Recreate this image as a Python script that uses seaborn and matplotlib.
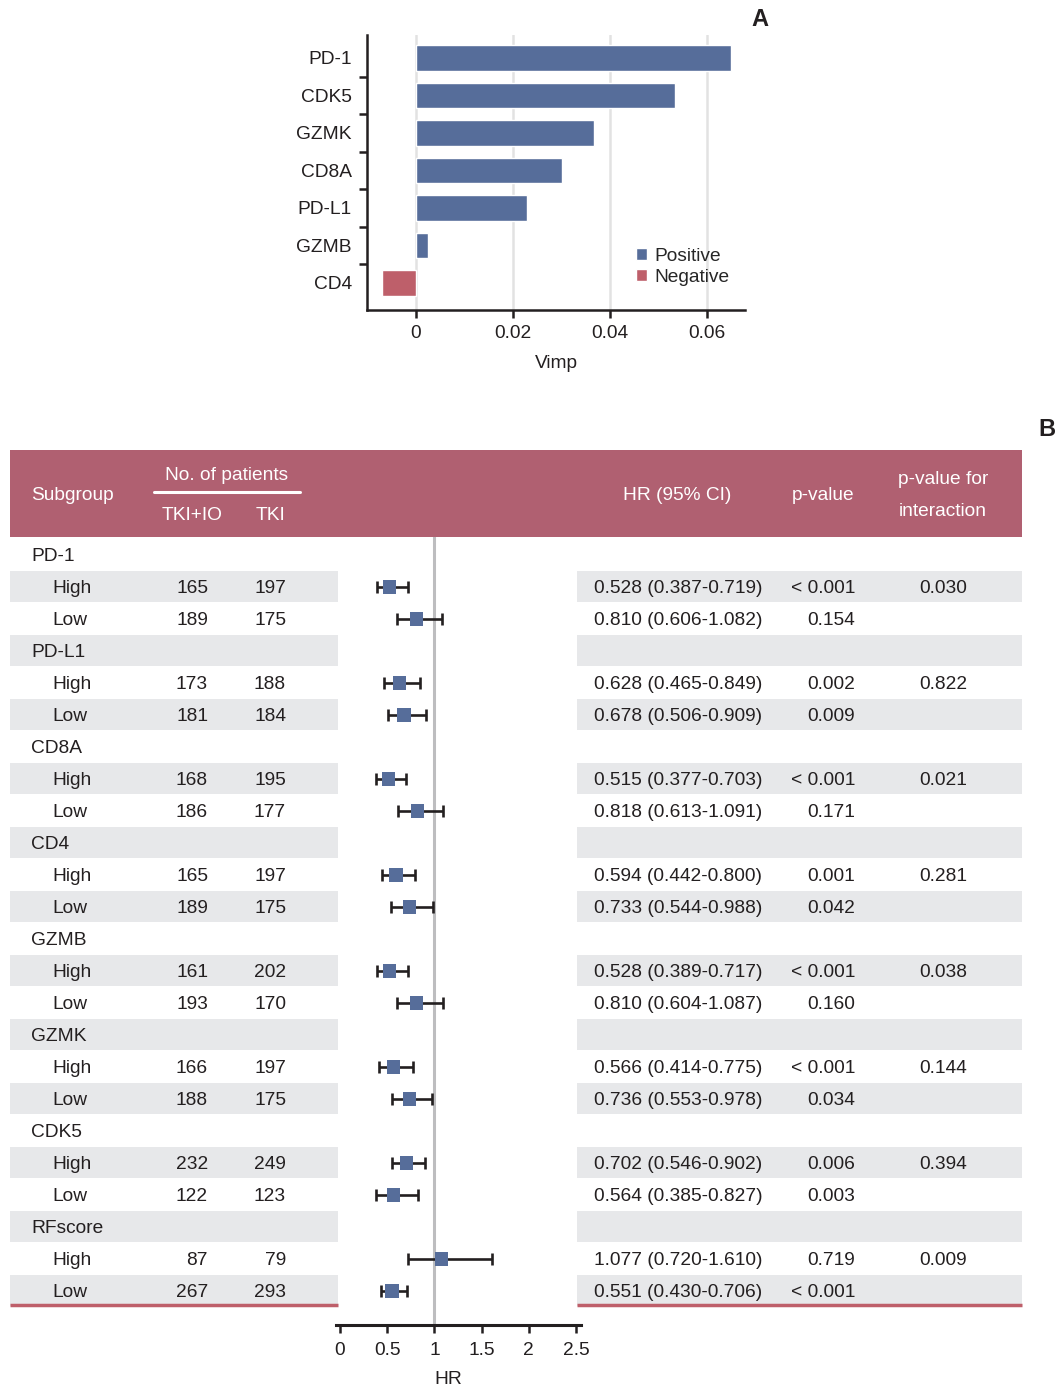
import numpy as np
import pandas as pd
import matplotlib
matplotlib.use("Agg")
import matplotlib.pyplot as plt
import seaborn as sns
from matplotlib.patches import Rectangle

# ---- panel A data
genes = ["PD-1", "CDK5", "GZMK", "CD8A", "PD-L1", "GZMB", "CD4"]
vimp = [0.0650, 0.0534, 0.0367, 0.0301, 0.0229, 0.0025, -0.0070]

# ---- panel B data
markers = ["PD-1", "PD-L1", "CD8A", "CD4", "GZMB", "GZMK", "CDK5", "RFscore"]
levels = ["High", "Low"]
n_combo = [165, 189, 173, 181, 168, 186, 165, 189, 161, 193, 166, 188, 232, 122, 87, 267]
n_tki = [197, 175, 188, 184, 195, 177, 197, 175, 202, 170, 197, 175, 249, 123, 79, 293]
hr = [0.528, 0.810, 0.628, 0.678, 0.515, 0.818, 0.594, 0.733,
      0.528, 0.810, 0.566, 0.736, 0.702, 0.564, 1.077, 0.551]
hr_lo = [0.387, 0.606, 0.465, 0.506, 0.377, 0.613, 0.442, 0.544,
         0.389, 0.604, 0.414, 0.553, 0.546, 0.385, 0.720, 0.430]
hr_hi = [0.719, 1.082, 0.849, 0.909, 0.703, 1.091, 0.800, 0.988,
         0.717, 1.087, 0.775, 0.978, 0.902, 0.827, 1.610, 0.706]
p_val = ["< 0.001", "0.154", "0.002", "0.009", "< 0.001", "0.171", "0.001", "0.042",
         "< 0.001", "0.160", "< 0.001", "0.034", "0.006", "0.003", "0.719", "< 0.001"]
p_int = ["0.030", "0.822", "0.021", "0.281", "0.038", "0.144", "0.394", "0.009"]

BLUE = "#566D9A"
RED = "#BE5F6A"
HEAD = "#B06071"
STRIPE = "#E7E8EA"
INK = "#231F20"

sns.set_style("white")
plt.rcParams['font.family'] = ['Liberation Sans', 'DejaVu Sans']
FS = 13.8

W, H = 1062, 1387
fig = plt.figure(figsize=(W / 100, H / 100), dpi=100)


def px_axes(x0, y0, x1, y1):
    return fig.add_axes([x0 / W, 1 - y1 / H, (x1 - x0) / W, (y1 - y0) / H])


# ---------------- table background (pixel coordinates)
tab = px_axes(0, 0, W, H)
tab.set_xlim(0, W)
tab.set_ylim(H, 0)
tab.axis("off")

tab.text(760, 19, "A", fontsize=17, fontweight="bold", ha="center", va="center", color=INK)
tab.text(1047, 429, "B", fontsize=17, fontweight="bold", ha="center", va="center", color=INK)

tab.add_patch(Rectangle((10, 450), 1012, 87, color=HEAD, lw=0))
hdr = dict(color="white", fontsize=FS, va="center")
tab.text(31, 496, "Subgroup", ha="left", **hdr)
tab.text(227, 476, "No. of patients", ha="center", **hdr)
tab.plot([154, 300], [492, 492], color="white", lw=2.2)
tab.text(192, 516, "TKI+IO", ha="center", **hdr)
tab.text(270, 516, "TKI", ha="center", **hdr)
tab.text(677, 496, "HR (95% CI)", ha="center", **hdr)
tab.text(823, 496, "p-value", ha="center", **hdr)
tab.text(943, 480, "p-value for", ha="center", **hdr)
tab.text(943, 512, "interaction", ha="center", **hdr)

row0, rh = 555, 32
n_rows = len(markers) * 3
for r in range(n_rows):
    yc = row0 + rh * r
    if r % 2 == 1:
        tab.add_patch(Rectangle((10, yc - 16), 328, 31, color=STRIPE, lw=0))
        tab.add_patch(Rectangle((577, yc - 16), 445, 31, color=STRIPE, lw=0))

txt = dict(fontsize=FS, va="center", color=INK)
k = 0
for g, m in enumerate(markers):
    yg = row0 + rh * 3 * g
    tab.text(31, yg + 1.5, m, ha="left", **txt)
    for j, lv in enumerate(levels):
        y = yg + rh * (j + 1) + 1.5
        tab.text(52, y, lv, ha="left", **txt)
        tab.text(208, y, str(n_combo[k]), ha="right", **txt)
        tab.text(286, y, str(n_tki[k]), ha="right", **txt)
        tab.text(594, y, "%.3f (%.3f-%.3f)" % (hr[k], hr_lo[k], hr_hi[k]), ha="left", **txt)
        tab.text(855, y, p_val[k], ha="right", **txt)
        if j == 0:
            tab.text(943, y, p_int[g], ha="center", **txt)
        k += 1

tab.plot([10, 338], [1305, 1305], color=RED, lw=2.5, solid_capstyle="butt")
tab.plot([577, 1022], [1305, 1305], color=RED, lw=2.5, solid_capstyle="butt")

# ---------------- panel A: bar chart
axA = px_axes(367, 35, 745, 310)
dfA = pd.DataFrame({"gene": genes, "vimp": vimp,
                    "sign": ["Positive" if v > 0 else "Negative" for v in vimp]})
sns.barplot(data=dfA, y="gene", x="vimp", hue="sign", order=genes,
            hue_order=["Positive", "Negative"], dodge=False,
            palette={"Positive": BLUE, "Negative": RED}, width=0.69,
            saturation=1, ax=axA, zorder=3)
axA.set_xlim(-0.0101, 0.0678)
axA.set_ylim(6.72, -0.613)
axA.set_xticks([0, 0.02, 0.04, 0.06])
axA.set_xticklabels(["0", "0.02", "0.04", "0.06"])
axA.set_yticks(range(len(genes)))
axA.set_yticks(np.arange(0.5, len(genes) - 1, 1), minor=True)
axA.tick_params(axis="y", which="major", length=0, pad=11, labelsize=FS, colors=INK)
axA.tick_params(axis="y", which="minor", left=True, length=6, width=1.8, color=INK)
axA.tick_params(axis="x", bottom=True, length=6, width=1.8, pad=5, labelsize=FS,
                colors=INK)
for x in [0, 0.02, 0.04, 0.06]:
    axA.axvline(x, color="#E2E2E2", lw=1.8, zorder=0)
for s in ["top", "right"]:
    axA.spines[s].set_visible(False)
for s in ["left", "bottom"]:
    axA.spines[s].set_linewidth(1.8)
    axA.spines[s].set_color(INK)
axA.set_ylabel("")
axA.set_xlabel("Vimp", fontsize=FS, color=INK, labelpad=9)
axA.legend(loc="lower right", bbox_to_anchor=(0.98, 0.06), frameon=False,
           fontsize=FS, handlelength=0.55, handleheight=0.55,
           handletextpad=0.4, labelspacing=0.2, borderaxespad=0)

# ---------------- panel B: forest plot
axB = px_axes(336, 537, 581, 1325)
axB.patch.set_alpha(0)
rows = [3 * g + j + 1 for g in range(len(markers)) for j in range(len(levels))]
dfB = pd.DataFrame({"row": rows, "hr": hr, "lo": hr_lo, "hi": hr_hi})
axB.axvline(1, color="#BDBDBF", lw=2.2, zorder=0)
axB.errorbar(dfB["hr"], dfB["row"],
             xerr=[dfB["hr"] - dfB["lo"], dfB["hi"] - dfB["hr"]],
             fmt="none", ecolor=INK, elinewidth=1.9, capsize=4.3, capthick=1.9, zorder=2)
sns.scatterplot(data=dfB, x="hr", y="row", marker="s", s=90, color=BLUE,
                edgecolor="none", ax=axB, zorder=3)
axB.set_xlim(-0.042, 2.553)
axB.set_ylim((1325 - row0) / rh, (537 - row0) / rh)
axB.set_yticks([])
axB.set_xticks([0, 0.5, 1, 1.5, 2, 2.5])
axB.set_xticklabels(["0", "0.5", "1", "1.5", "2", "2.5"])
axB.tick_params(axis="x", bottom=True, length=6, width=1.8, pad=6, labelsize=FS,
                colors=INK)
for s in ["top", "right", "left"]:
    axB.spines[s].set_visible(False)
axB.spines["bottom"].set_linewidth(2.2)
axB.spines["bottom"].set_color(INK)
axB.set_ylabel("")
axB.set_xlabel("HR", fontsize=FS, color=INK)
axB.xaxis.set_label_coords((448 - 336) / (581 - 336), -0.058)

fig.savefig("out.png", dpi=100)
